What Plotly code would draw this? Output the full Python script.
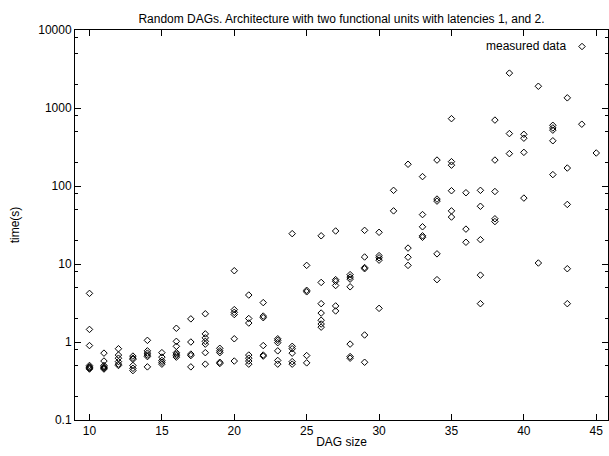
import plotly.graph_objects as go

# DAG sizes and measured times (seconds), one list per DAG size
dag_sizes = list(range(10, 46))
times = {
    10: [4.2, 1.45, 0.9, 0.5, 0.48, 0.47, 0.46, 0.45],
    11: [0.72, 0.57, 0.5, 0.48, 0.47, 0.46, 0.45],
    12: [0.82, 0.68, 0.62, 0.56, 0.52, 0.5],
    13: [0.66, 0.62, 0.6, 0.5, 0.46, 0.43],
    14: [1.05, 0.77, 0.72, 0.68, 0.65, 0.48],
    15: [0.73, 0.64, 0.58, 0.55, 0.52],
    16: [1.5, 1.02, 0.88, 0.73, 0.7, 0.67, 0.64],
    17: [1.98, 1.0, 0.7, 0.67, 0.48],
    18: [2.3, 1.27, 1.13, 1.02, 0.94, 0.73, 0.52],
    19: [0.83, 0.77, 0.73, 0.55, 0.53],
    20: [8.2, 2.6, 2.4, 2.25, 1.1, 0.57],
    21: [4.0, 2.0, 1.75, 0.68, 0.62, 0.57, 0.52],
    22: [3.2, 2.15, 2.05, 0.9, 0.68, 0.66],
    23: [1.1, 1.05, 0.98, 0.77, 0.58, 0.52],
    24: [24.5, 0.88, 0.82, 0.72, 0.56, 0.52],
    25: [9.6, 4.6, 4.4, 0.67, 0.54],
    26: [23, 5.8, 3.1, 2.35, 1.9, 1.7, 1.55],
    27: [26.5, 6.3, 6.0, 5.3, 2.9, 2.5],
    28: [7.3, 6.8, 6.4, 5.1, 0.94, 0.65, 0.62],
    29: [27, 12.3, 9.0, 8.7, 1.23, 0.55],
    30: [25.5, 12.8, 12, 11.2, 2.7],
    31: [88, 48],
    32: [190, 16, 12.2, 9.6],
    33: [132, 43, 30, 23, 22],
    34: [215, 68, 64, 13.5, 6.3],
    35: [730, 205, 185, 87, 48, 40],
    36: [82, 28, 19],
    37: [88, 55, 20.5, 7.2, 3.1],
    38: [700, 215, 85, 38, 35],
    39: [2800, 470, 260],
    40: [460, 410, 270, 70],
    41: [1900, 10.3],
    42: [600, 555, 520, 380, 140],
    43: [1350, 170, 58, 8.7, 3.1],
    44: [620],
    45: [265],
}

x_ticks = [10, 15, 20, 25, 30, 35, 40, 45]
y_ticks = [0.1, 1, 10, 100, 1000, 10000]
y_tick_labels = ["0.1", "1", "10", "100", "1000", "10000"]
y_minor = [m * 10 ** e for e in range(-1, 4) for m in (2, 5, 8)]

xs, ys = [], []
for n in dag_sizes:
    for t in times.get(n, []):
        xs.append(n)
        ys.append(t)

FONT = "Liberation Sans, Arial, Helvetica, sans-serif"
FS = 12
W, H = 609, 456
L, R, T, B = 75, 1, 30, 36
PW, PH = W - L - R, H - T - B

fig = go.Figure()
fig.add_trace(go.Scatter(
    x=xs, y=ys, mode="markers", name=" ",
    marker=dict(symbol="diamond-open", size=5, color="black",
                line=dict(width=1, color="black")),
    showlegend=True,
))

fig.add_annotation(text="measured data", xref="paper", yref="paper",
                   x=(568 - L) / PW, xanchor="right",
                   y=(H - B - 46.5) / PH, yanchor="middle",
                   showarrow=False, font=dict(family=FONT, size=FS, color="black"))

fig.update_layout(
    width=W, height=H,
    margin=dict(l=L, r=R, t=T, b=B, autoexpand=False),
    paper_bgcolor="white", plot_bgcolor="white",
    font=dict(family=FONT, size=FS, color="black"),
    title=dict(text="Random DAGs. Architecture with two functional units with latencies 1, and 2.",
               x=0.5, xref="paper", xanchor="center",
               y=1 - 19 / H, yref="container", yanchor="middle",
               font=dict(family=FONT, size=FS, color="black")),
    legend=dict(x=(582 - 20 - L) / PW, xanchor="left",
                y=(H - B - 46.5) / PH, yanchor="middle",
                bgcolor="rgba(0,0,0,0)", borderwidth=0,
                itemwidth=30, font=dict(size=FS)),
    xaxis=dict(range=[9, 45.81], tickvals=x_ticks, automargin=False,
               ticks="inside", ticklen=6, tickcolor="black",
               showline=True, linecolor="black", linewidth=1, mirror="ticks",
               showgrid=False, zeroline=False,
               tickfont=dict(family=FONT, size=FS),
               title=dict(text="DAG size", standoff=0,
                          font=dict(family=FONT, size=FS))),
    yaxis=dict(type="log", range=[-1, 4], tickvals=y_ticks, ticktext=y_tick_labels,
               automargin=False,
               ticks="inside", ticklen=6, tickcolor="black",
               showline=True, linecolor="black", linewidth=1, mirror="ticks",
               showgrid=False, zeroline=False,
               minor=dict(tickvals=y_minor, ticks="inside", ticklen=3,
                          tickcolor="black", showgrid=False),
               tickfont=dict(family=FONT, size=FS),
               title=dict(text="time(s)", standoff=16,
                          font=dict(family=FONT, size=FS))),
)

fig.write_html("out.html", config={"displayModeBar": False},
               post_script="document.body.style.margin='0';document.body.style.overflow='hidden';")
